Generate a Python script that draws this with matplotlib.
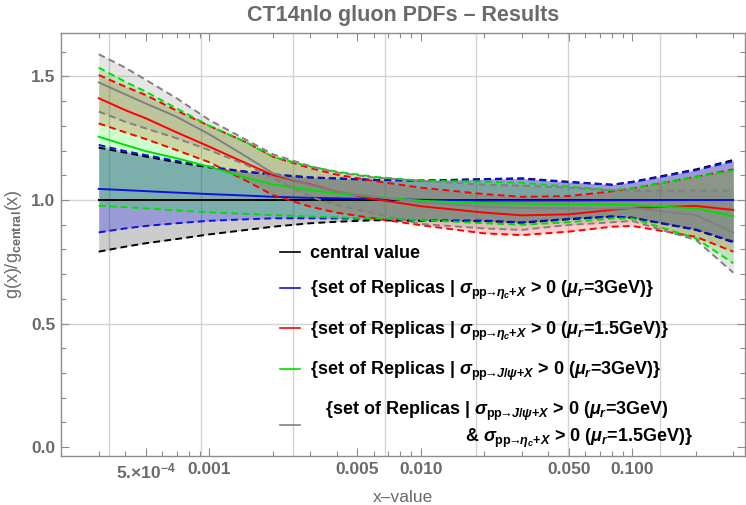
import numpy as np
import matplotlib
matplotlib.use("Agg")
import matplotlib.pyplot as plt
from matplotlib.ticker import FixedLocator, NullFormatter

plt.rcParams['font.family'] = ['Liberation Sans', 'DejaVu Sans']
plt.rcParams['font.weight'] = 'bold'
plt.rcParams['mathtext.fontset'] = 'custom'
plt.rcParams['mathtext.rm'] = 'Liberation Sans:bold'
plt.rcParams['mathtext.it'] = 'Liberation Sans:italic:bold'
plt.rcParams['mathtext.bf'] = 'Liberation Sans:bold'

# x grid and ratios g(x)/g_central(x) for each replica subset
x = [3e-4, 4e-4, 5e-4, 7e-4, 1e-3, 1.5e-3, 2e-3, 3e-3, 4e-3, 6e-3,
     1e-2, 2e-2, 3e-2, 5e-2, 8e-2, 1e-1, 2e-1, 3e-1]

central = [1.0] * len(x)
central_hi = [1.212, 1.192, 1.176, 1.153, 1.132, 1.114, 1.103, 1.091, 1.087, 1.081,
              1.078, 1.085, 1.088, 1.074, 1.062, 1.074, 1.124, 1.162]
central_lo = [0.791, 0.811, 0.825, 0.842, 0.861, 0.879, 0.892, 0.906, 0.912, 0.918,
              0.916, 0.915, 0.908, 0.922, 0.933, 0.928, 0.879, 0.829]

blue_hi = [1.223, 1.198, 1.182, 1.158, 1.135, 1.115, 1.104, 1.092, 1.088, 1.082,
           1.079, 1.084, 1.086, 1.072, 1.062, 1.072, 1.121, 1.157]
blue_mid = [1.045, 1.040, 1.036, 1.030, 1.024, 1.018, 1.013, 1.009, 1.007, 1.004,
            1.001, 0.998, 0.998, 0.998, 0.999, 0.999, 1.000, 1.000]
blue_lo = [0.869, 0.885, 0.895, 0.906, 0.916, 0.922, 0.926, 0.926, 0.925, 0.924,
           0.918, 0.917, 0.910, 0.924, 0.934, 0.929, 0.881, 0.832]

red_hi = [1.506, 1.459, 1.425, 1.362, 1.300, 1.233, 1.175, 1.129, 1.103, 1.077,
          1.050, 1.024, 1.013, 1.016, 1.035, 1.047, 1.094, 1.124]
red_mid = [1.412, 1.364, 1.331, 1.274, 1.216, 1.148, 1.101, 1.063, 1.034, 1.004,
           0.975, 0.949, 0.938, 0.942, 0.960, 0.968, 0.976, 0.960]
red_lo = [1.310, 1.274, 1.247, 1.202, 1.153, 1.077, 1.020, 0.973, 0.949, 0.926,
          0.898, 0.865, 0.858, 0.872, 0.892, 0.895, 0.851, 0.791]

green_hi = [1.536, 1.479, 1.439, 1.371, 1.300, 1.233, 1.175, 1.135, 1.115, 1.094,
            1.078, 1.074, 1.070, 1.054, 1.040, 1.047, 1.094, 1.119]
green_mid = [1.256, 1.223, 1.198, 1.169, 1.135, 1.090, 1.063, 1.040, 1.027, 1.014,
             0.997, 0.987, 0.985, 0.984, 0.982, 0.980, 0.966, 0.935]
green_lo = [0.977, 0.971, 0.966, 0.958, 0.950, 0.944, 0.939, 0.933, 0.930, 0.926,
            0.919, 0.906, 0.900, 0.910, 0.925, 0.925, 0.845, 0.744]

gray_hi = [1.590, 1.536, 1.487, 1.412, 1.324, 1.243, 1.185, 1.137, 1.112, 1.091,
           1.078, 1.062, 1.058, 1.050, 1.039, 1.038, 1.038, 1.038]
gray_mid = [1.476, 1.428, 1.391, 1.337, 1.266, 1.175, 1.108, 1.061, 1.034, 1.014,
            0.990, 0.973, 0.968, 0.966, 0.965, 0.968, 0.939, 0.869]
gray_lo = [1.358, 1.317, 1.290, 1.250, 1.202, 1.142, 1.088, 1.013, 0.980, 0.946,
           0.903, 0.885, 0.879, 0.899, 0.910, 0.915, 0.838, 0.706]

sig_eta = r"$\sigma_{\mathrm{pp}\!\!\to\!\!\eta_c\mathrm{+}X}$"
sig_psi = r"$\sigma_{\mathrm{pp}\!\!\to\!\!J/\psi\mathrm{+}X}$"
labels = [
    "central value",
    "{set of Replicas | " + sig_eta + r" > 0 ($\mu_r$=3GeV)}",
    "{set of Replicas | " + sig_eta + r" > 0 ($\mu_r$=1.5GeV)}",
    "{set of Replicas | " + sig_psi + r" > 0 ($\mu_r$=3GeV)}",
    "   {set of Replicas | " + sig_psi + r" > 0 ($\mu_r$=3GeV)" + "\n"
    + " " * 31 + "& " + sig_eta + r" > 0 ($\mu_r$=1.5GeV)}",
]

txt_gray = "#6a6a6a"
frame_gray = "#8c8c8c"

fig = plt.figure(figsize=(7.46, 5.05), dpi=100)
ax = fig.add_axes([61 / 746, 49 / 505, 684 / 746, 423 / 505])
ax.set_xscale("log")


def band(lo, mid, hi, color, alpha, label, line_color=None):
    lc = line_color or color
    ax.fill_between(x, lo, hi, color=color, alpha=alpha, lw=0)
    ax.plot(x, hi, color=lc, ls=(0, (3.5, 2.2)), lw=1.4)
    ax.plot(x, lo, color=lc, ls=(0, (3.5, 2.2)), lw=1.4)
    ax.plot(x, mid, color=lc, lw=1.4, label=label)


band(central_lo, central, central_hi, "black", 0.2, labels[0])
band(blue_lo, blue_mid, blue_hi, "#0000ff", 0.24, labels[1], "#1010e0")
band(red_lo, red_mid, red_hi, "#ff0000", 0.2, labels[2])
band(green_lo, green_mid, green_hi, "#00ff00", 0.2, labels[3], "#00e000")
band(gray_lo, gray_mid, gray_hi, "#808080", 0.2, labels[4])

# axes ranges
ax.set_xlim(1.99e-4, 0.341)
ax.set_ylim(-0.036, 1.676)

# grid lines at e^-8 ... e^-2 and at 0.5, 1.0, 1.5
for k in range(-8, -1):
    ax.axvline(np.exp(k), color="#d4d4d4", lw=1, zorder=0)
for v in [0.5, 1.0, 1.5]:
    ax.axhline(v, color="#d4d4d4", lw=1, zorder=0)

major_x = [5e-4, 1e-3, 5e-3, 1e-2, 5e-2, 1e-1]
ax.xaxis.set_major_locator(FixedLocator(major_x))
ax.set_xticklabels([r"5.$\times$10$^{-4}$", "0.001", "0.005", "0.010", "0.050", "0.100"])
minor_x = [m * 10.0 ** e for e in (-4, -3, -2, -1) for m in range(1, 10)]
minor_x = [v for v in minor_x if 2.9e-4 < v < 0.31 and v not in major_x]
ax.xaxis.set_minor_locator(FixedLocator(minor_x))
ax.xaxis.set_minor_formatter(NullFormatter())

ax.set_yticks([0.0, 0.5, 1.0, 1.5])
ax.set_yticklabels(["0.0", "0.5", "1.0", "1.5"])
ax.yaxis.set_minor_locator(FixedLocator(np.arange(0.1, 1.7, 0.1)))

ax.tick_params(which="both", direction="in", top=True, right=True, color=frame_gray,
               labelcolor=txt_gray, labelsize=12.5, width=0.8)
ax.tick_params(which="major", length=6, pad=4)
ax.tick_params(which="minor", length=3.5)
for s in ax.spines.values():
    s.set_color(frame_gray)
    s.set_linewidth(1.0)

ax.set_xlabel("x\u2013value", color=txt_gray, fontsize=12.5, labelpad=6)
ax.set_ylabel(r"g(x)/g$_{\mathrm{central}}$(x)", color=txt_gray, fontsize=13, labelpad=5)
ax.set_title("CT14nlo gluon PDFs \u2013 Results", color=txt_gray, fontsize=15.5,
             fontweight="bold", pad=9)

leg = ax.legend(loc="upper left", bbox_to_anchor=(280 / 746, 1 - 245 / 505),
                bbox_transform=fig.transFigure, frameon=False, fontsize=13,
                handlelength=1.1, handletextpad=0.55, labelspacing=0.95,
                borderpad=0, borderaxespad=0)
for line in leg.get_lines():
    line.set_linewidth(1.2)

fig.savefig("out.png", dpi=100)
